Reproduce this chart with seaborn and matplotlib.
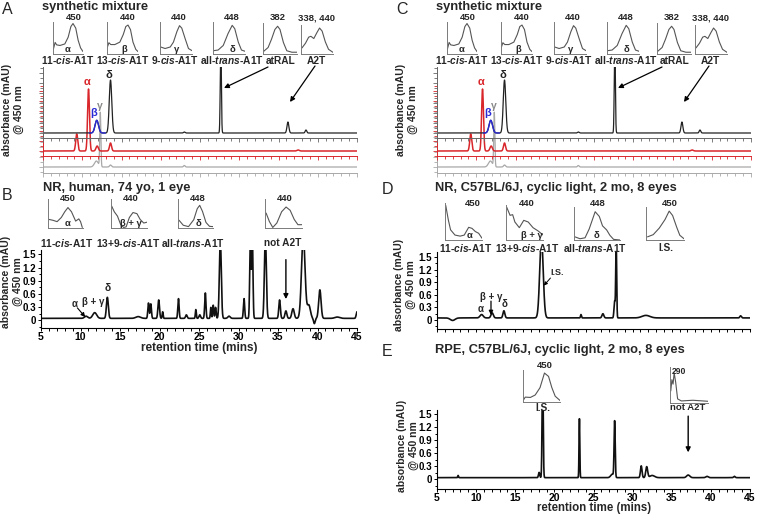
import numpy as np
import seaborn as sns
import matplotlib
matplotlib.use("Agg")
import matplotlib.pyplot as plt
from matplotlib.patches import FancyArrowPatch
from matplotlib.ticker import MultipleLocator

# ------------------------------------------------------------------ data
# synthetic mixture chromatograms (panels A and C), relative absorbance
MIX_BLACK_T = [11.85, 13.6, 23.0, 27.65, 36.2, 38.5]
MIX_BLACK_H = [12.7, 53.0, 1.0, 90.0, 11.0, 3.0]
MIX_BLACK_W = [0.22, 0.16, 0.10, 0.07, 0.12, 0.10]
MIX_RED_T = [9.3, 10.8, 11.9, 13.6, 37.5]
MIX_RED_H = [17.0, 62.0, 5.0, 8.0, 1.0]
MIX_RED_W = [0.13, 0.12, 0.15, 0.13, 0.15]
MIX_GREY_T = [11.8, 12.3, 13.6, 23.0]
MIX_GREY_H = [6.0, 54.0, 2.0, 1.5]
MIX_GREY_W = [0.25, 0.07, 0.12, 0.10]

# NR, human (panel B), mAU
NRH_T = [10.7, 11.8, 13.4, 17.3, 18.6, 18.9, 19.9, 20.4, 22.4, 23.4, 24.6, 25.1,
         25.8, 26.5, 26.8, 27.1, 27.7, 28.8, 30.7, 31.5, 31.75, 33.4, 35.2, 36.0,
         36.9, 38.2, 38.9, 39.6, 40.3, 42.5, 45.0]
NRH_H = [0.05, 0.13, 0.48, 0.04, 0.35, 0.33, 0.42, 0.15, 0.45, 0.08, 0.20, 0.08,
         0.58, 0.25, 0.30, 0.25, 1.80, 0.05, 0.45, 1.90, 1.90, 1.90, 0.42, 0.17,
         0.22, 1.90, 0.30, -0.12, 0.65, 0.03, 0.15]
NRH_W = [0.20, 0.25, 0.12, 0.30, 0.08, 0.08, 0.10, 0.06, 0.08, 0.10, 0.06, 0.10,
         0.08, 0.06, 0.07, 0.07, 0.12, 0.15, 0.08, 0.08, 0.08, 0.12, 0.10, 0.12,
         0.15, 0.22, 0.20, 0.10, 0.15, 0.30, 0.10]
NRH_BASE = 0.04

# NR, C57BL/6J (panel D)
NRM_T = [7.0, 10.7, 12.05, 13.55, 18.35, 23.4, 26.2, 27.7, 27.9, 31.7, 43.8]
NRM_H = [-0.06, 0.08, 0.12, 0.17, 1.90, 0.08, 0.10, 0.40, 1.80, 0.06, 0.05]
NRM_W = [0.30, 0.20, 0.15, 0.12, 0.22, 0.06, 0.12, 0.08, 0.06, 0.50, 0.10]
NRM_BASE = 0.05

# RPE, C57BL/6J (panel E)
RPE_T = [7.7, 18.05, 18.5, 23.2, 27.4, 27.7, 31.1, 31.8, 32.5, 37.1, 39.5, 43.0]
RPE_H = [0.05, 0.12, 2.50, 1.35, 0.08, 1.28, 0.27, 0.25, 0.05, 0.06, 0.03, 0.03]
RPE_W = [0.05, 0.08, 0.07, 0.05, 0.20, 0.07, 0.10, 0.12, 0.30, 0.20, 0.15, 0.10]
RPE_BASE = 0.04

Y_TICKS = [0, 0.3, 0.6, 0.9, 1.2, 1.5]
Y_TICK_LABELS = ["0", "0.3", "0.6", "0.9", "1.2", "1.5"]
X_TICKS = [5, 10, 15, 20, 25, 30, 35, 40, 45]

# inset UV/vis spectra (normalised)
A_NAMES = [r"11-$\mathit{cis}$-A1T", r"13-$\mathit{cis}$-A1T", r"9-$\mathit{cis}$-A1T",
           r"all-$\mathit{trans}$-A1T", "atRAL", "A2T"]
A_LMAX = ["450", "440", "440", "448", "382", "338, 440"]
A_GREEK = ["α", "β", "γ", "δ", "", ""]
A_SPEC_X = [
    [0.02, 0.08, 0.13, 0.24, 0.40, 0.51, 0.60, 0.67, 0.76, 0.84, 0.92, 1.0],
    [0.02, 0.07, 0.13, 0.26, 0.42, 0.53, 0.61, 0.68, 0.76, 0.84, 0.93, 1.0],
    [0.02, 0.16, 0.32, 0.42, 0.53, 0.61, 0.68, 0.79, 0.89, 1.0],
    [0.02, 0.16, 0.32, 0.47, 0.60, 0.68, 0.79, 0.89, 1.0],
    [0.02, 0.15, 0.25, 0.35, 0.43, 0.50, 0.60, 0.70, 0.85, 1.0],
    [0.03, 0.14, 0.24, 0.31, 0.40, 0.50, 0.58, 0.66, 0.76, 0.86, 1.0],
]
A_SPEC_Y = [
    [0.15, 0.38, 0.30, 0.28, 0.33, 0.55, 0.90, 1.00, 0.85, 0.45, 0.20, 0.08],
    [0.22, 0.37, 0.31, 0.31, 0.39, 0.64, 0.90, 0.95, 0.80, 0.39, 0.15, 0.08],
    [0.23, 0.18, 0.23, 0.39, 0.74, 0.93, 0.85, 0.49, 0.18, 0.11],
    [0.11, 0.13, 0.28, 0.67, 0.94, 0.83, 0.39, 0.13, 0.09],
    [0.09, 0.22, 0.50, 0.83, 0.94, 0.83, 0.39, 0.11, 0.06, 0.06],
    [0.22, 0.39, 0.61, 0.64, 0.56, 0.78, 0.94, 0.83, 0.44, 0.17, 0.06],
]

B_NAMES = [r"11-$\mathit{cis}$-A1T", r"13+9-$\mathit{cis}$-A1T", r"all-$\mathit{trans}$-A1T", "not A2T"]
B_LMAX = ["450", "440", "448", "440"]
B_GREEK = ["α", "β + γ", "δ", ""]
B_SPEC_X = [
    [0.03, 0.14, 0.26, 0.38, 0.48, 0.57, 0.67, 0.79, 0.88, 0.93, 0.98],
    [0.02, 0.09, 0.18, 0.27, 0.35, 0.42, 0.51, 0.61, 0.72, 0.81, 0.91, 1.0],
    [0.03, 0.15, 0.30, 0.45, 0.55, 0.62, 0.70, 0.80, 0.90, 1.0],
    [0.03, 0.12, 0.21, 0.32, 0.45, 0.57, 0.68, 0.79, 0.89, 1.0],
]
B_SPEC_Y = [
    [0.31, 0.28, 0.23, 0.38, 0.59, 0.74, 0.59, 0.25, 0.33, 0.23, 0.02],
    [0.79, 0.59, 0.43, 0.12, 0.02, 0.04, 0.38, 0.56, 0.52, 0.31, 0.18, 0.21],
    [0.28, 0.10, 0.05, 0.30, 0.70, 0.82, 0.60, 0.20, 0.06, 0.05],
    [0.54, 0.23, 0.02, 0.18, 0.59, 0.76, 0.64, 0.31, 0.12, 0.12],
]

D_NAMES = [r"11-$\mathit{cis}$-A1T", r"13+9-$\mathit{cis}$-A1T", r"all-$\mathit{trans}$-A1T", "I.S."]
D_LMAX = ["450", "440", "448", "450"]
D_GREEK = ["α", "β + γ", "δ", ""]
D_SPEC_X = [
    [0.02, 0.09, 0.15, 0.27, 0.41, 0.52, 0.64, 0.73, 0.82, 0.91, 1.0],
    [0.02, 0.11, 0.18, 0.24, 0.36, 0.48, 0.60, 0.73, 0.87, 1.0],
    [0.02, 0.13, 0.24, 0.33, 0.46, 0.55, 0.62, 0.71, 0.78, 0.86, 1.0],
    [0.04, 0.19, 0.35, 0.50, 0.61, 0.70, 0.81, 0.89, 1.0],
]
D_SPEC_Y = [
    [0.98, 0.57, 0.29, 0.14, 0.11, 0.14, 0.36, 0.33, 0.24, 0.19, 0.05],
    [0.98, 0.74, 0.76, 0.54, 0.37, 0.59, 0.54, 0.37, 0.27, 0.15],
    [0.10, 0.04, 0.07, 0.35, 0.90, 0.75, 0.45, 0.32, 0.15, 0.02, 0.0],
    [0.10, 0.17, 0.38, 0.65, 0.92, 0.78, 0.40, 0.15, 0.04],
]

E_NAMES = ["I.S.", "not A2T"]
E_LMAX = ["450", "290"]
E_SPEC_X = [
    [0.02, 0.06, 0.20, 0.33, 0.46, 0.58, 0.69, 0.78, 0.87, 1.0],
    [0.02, 0.05, 0.08, 0.11, 0.15, 0.20, 0.30, 0.60, 1.0],
]
E_SPEC_Y = [
    [0.08, 0.16, 0.15, 0.23, 0.47, 0.95, 0.84, 0.47, 0.19, 0.05],
    [0.35, 0.68, 0.55, 0.88, 0.60, 0.12, 0.06, 0.08, 0.05],
]

# ------------------------------------------------------------------ style
sns.set_style("ticks")
plt.rcParams["font.family"] = ["Liberation Sans", "DejaVu Sans"]
plt.rcParams["font.weight"] = "bold"
plt.rcParams["mathtext.fontset"] = "custom"
plt.rcParams["mathtext.it"] = "Liberation Sans:italic:bold"
plt.rcParams["mathtext.rm"] = "Liberation Sans:bold"
plt.rcParams["mathtext.bf"] = "Liberation Sans:bold"
plt.rcParams["mathtext.sf"] = "Liberation Sans:bold"

W, H = 757, 515
fig = plt.figure(figsize=(W / 100, H / 100), dpi=100)

RED = "#d9262b"
BLUE = "#2b2bd6"
GREY = "#a8a8a8"
DARK = "#222222"
SPEC_C = "#555555"
FRAME_C = "#7a7a7a"

TITLE_FS = 9.3
LETTER_FS = 11.5
NAME_FS = 7.3
NUM_FS = 6.8
GREEK_FS = 6.8

T = np.linspace(5, 45, 3201)


def chrom(ts, hs, ws, base=0.0):
    y = np.full_like(T, base)
    for t, h, w in zip(ts, hs, ws):
        y = y + h * np.exp(-0.5 * ((T - t) / w) ** 2)
    return y


def add_ax(x0, y0, x1, y1):
    return fig.add_axes([x0 / W, 1 - y1 / H, (x1 - x0) / W, (y1 - y0) / H])


def ftext(x, y, s, **kw):
    kw.setdefault("ha", "center")
    kw.setdefault("va", "center")
    fig.text(x / W, 1 - y / H, s, **kw)


def farrow(x0, y0, x1, y1, ms=7):
    fig.add_artist(FancyArrowPatch((x0 / W, 1 - y0 / H), (x1 / W, 1 - y1 / H),
                                   transform=fig.transFigure, arrowstyle="-|>",
                                   mutation_scale=ms, lw=0.9, color="k",
                                   shrinkA=0, shrinkB=0))


def line(ax, x, y, color, lw):
    sns.lineplot(x=np.asarray(x), y=np.asarray(y), ax=ax, color=color, lw=lw,
                 estimator=None, sort=False, legend=False)
    ax.set_xlabel("")
    ax.set_ylabel("")


def inset(box, xs, ys):
    x0, y0, x1, y1 = box
    ax = add_ax(x0, y0, x1, y1)
    ax.set_facecolor("none")
    line(ax, xs, ys, SPEC_C, 0.8)
    ax.set_xlim(0, 1)
    ax.set_ylim(0, 1.05)
    for s in ["top", "right"]:
        ax.spines[s].set_visible(False)
    for s in ["left", "bottom"]:
        ax.spines[s].set_color(FRAME_C)
        ax.spines[s].set_linewidth(0.7)
    ax.set_xticks([])
    ax.set_yticks([])
    return ax


def style_mix(ax, color, ylim):
    ax.set_facecolor("none")
    ax.set_xlim(5, 45)
    ax.set_ylim(*ylim)
    for s in ["top", "right"]:
        ax.spines[s].set_visible(False)
    for s in ["left", "bottom"]:
        ax.spines[s].set_color(color)
        ax.spines[s].set_linewidth(0.7)
    ax.xaxis.set_major_locator(MultipleLocator(5))
    ax.xaxis.set_minor_locator(MultipleLocator(1))
    ax.yaxis.set_major_locator(MultipleLocator(10))
    ax.yaxis.set_minor_locator(MultipleLocator(5))
    ax.tick_params(which="both", colors=color, labelbottom=False, labelleft=False,
                   direction="out", width=0.6)
    ax.tick_params(which="major", length=3)
    ax.tick_params(which="minor", length=2)


def style_chrom(ax, ylim, xlabels):
    ax.set_xlim(5, 45)
    ax.set_ylim(*ylim)
    for s in ["top", "right"]:
        ax.spines[s].set_visible(False)
    for s in ["left", "bottom"]:
        ax.spines[s].set_linewidth(0.8)
        ax.spines[s].set_color("k")
    ax.set_xticks(X_TICKS)
    ax.xaxis.set_minor_locator(MultipleLocator(1))
    ax.set_yticks(Y_TICKS)
    ax.set_yticklabels(Y_TICK_LABELS)
    ax.yaxis.set_minor_locator(MultipleLocator(0.15))
    ax.tick_params(which="both", direction="out", width=0.7, colors="k")
    ax.tick_params(which="major", length=2.5, pad=1)
    ax.tick_params(which="minor", length=1.8)
    ax.tick_params(axis="y", labelsize=7)
    ax.tick_params(axis="x", labelsize=7.5, pad=0.2)
    if not xlabels:
        ax.tick_params(axis="x", labelbottom=False)


YLAB = "absorbance (mAU)\n@ 450 nm"

# ------------------------------------------------------------------ panels A & C
A_BOXES = [(52.7, 22, 83, 54), (106.7, 22, 138, 54), (160, 22, 192, 54),
           (213, 22, 245, 54), (263, 23, 297, 54), (301, 25, 333, 54)]
A_NUM_X = [74, 128, 179, 232, 278, 317]
A_NAME_X = [68, 123, 175, 232, 281, 316]
A_GREEK_X = [68, 124, 177, 233]


def synthetic(dx, letter):
    ftext(2 + dx, 10, letter, ha="left", fontsize=LETTER_FS, fontweight="normal")
    ftext(42 + dx, 7, "synthetic mixture", ha="left", fontsize=TITLE_FS)
    for i, box in enumerate(A_BOXES):
        inset((box[0] + dx, box[1], box[2] + dx, box[3]), A_SPEC_X[i], A_SPEC_Y[i])
        ftext(A_NUM_X[i] + dx, 18, A_LMAX[i], fontsize=NUM_FS)
        ftext(A_NAME_X[i] + dx, 60.5, A_NAMES[i], fontsize=NAME_FS)
        if A_GREEK[i]:
            ftext(A_GREEK_X[i] + dx, 49.5, A_GREEK[i], fontsize=GREEK_FS)
    axg = add_ax(43 + dx, 100, 357 + dx, 173)
    style_mix(axg, GREY, (-6, 67))
    line(axg, T, chrom(MIX_GREY_T, MIX_GREY_H, MIX_GREY_W), GREY, 0.9)
    axr = add_ax(43 + dx, 83, 357 + dx, 156)
    style_mix(axr, RED, (-5, 68))
    line(axr, T, chrom(MIX_RED_T, MIX_RED_H, MIX_RED_W), RED, 1.1)
    axb = add_ax(43 + dx, 67, 357 + dx, 138)
    style_mix(axb, "#666666", (-5, 66))
    yb = chrom(MIX_BLACK_T, MIX_BLACK_H, MIX_BLACK_W)
    line(axb, T, yb, DARK, 0.9)
    m = (T >= 10.9) & (T <= 12.95)
    line(axb, T[m], yb[m], BLUE, 1.0)
    # peak labels
    ftext(87 + dx, 82, "α", color=RED, fontsize=8)
    ftext(94 + dx, 113, "β", color=BLUE, fontsize=8)
    ftext(99.5 + dx, 106, "γ", color="#888888", fontsize=7.5)
    ftext(109 + dx, 75, "δ", color=DARK, fontsize=8)
    farrow(268 + dx, 67, 224 + dx, 88)
    farrow(315 + dx, 66, 290 + dx, 102)
    ftext(13 + dx, 110, YLAB, rotation=90, fontsize=7.5, linespacing=1.15)


synthetic(0, "A")
synthetic(394, "C")

# ------------------------------------------------------------------ panel B
ftext(2, 196, "B", ha="left", fontsize=LETTER_FS, fontweight="normal")
ftext(43, 188, "NR, human, 74 yo, 1 eye", ha="left", fontsize=TITLE_FS)
B_BOXES = [(48, 199, 83, 228), (111, 199, 147, 228), (178, 199, 213, 228), (265, 199, 302, 228)]
B_NUM_X = [68, 131, 198, 285]
B_NAME_X = [67, 128, 193, 283]
B_GREEK_X = [68, 131, 199]
for i, box in enumerate(B_BOXES):
    inset(box, B_SPEC_X[i], B_SPEC_Y[i])
    ftext(B_NUM_X[i], 198.5, B_LMAX[i], fontsize=NUM_FS)
    ftext(B_NAME_X[i], 243, B_NAMES[i], fontsize=NAME_FS)
    if B_GREEK[i]:
        ftext(B_GREEK_X[i], 224, B_GREEK[i], fontsize=GREEK_FS)

axB = add_ax(41, 250, 357, 328)
line(axB, T, chrom(NRH_T, NRH_H, NRH_W, NRH_BASE), "#111111", 1.2)
style_chrom(axB, (-0.18, 1.6), True)
axB.text(9.3, 0.36, "α", ha="center", va="center", fontsize=7)
axB.text(11.6, 0.42, "β + γ", ha="center", va="center", fontsize=7)
axB.text(13.4, 0.73, "δ", ha="center", va="center", fontsize=7.5)
axB.annotate("", xy=(10.6, 0.07), xytext=(9.6, 0.28),
             arrowprops=dict(arrowstyle="-|>", lw=0.8, color="k", mutation_scale=6,
                             shrinkA=0, shrinkB=0))
axB.annotate("", xy=(36.0, 0.48), xytext=(36.0, 1.38),
             arrowprops=dict(arrowstyle="-|>", lw=1.0, color="k", mutation_scale=7,
                             shrinkA=0, shrinkB=0))
ftext(199, 348.5, "retention time (mins)", fontsize=8.5)
ftext(12, 282, YLAB, rotation=90, fontsize=7.5, linespacing=1.15)

# ------------------------------------------------------------------ panel D
ftext(382, 189, "D", ha="left", fontsize=LETTER_FS, fontweight="normal")
ftext(435, 188, "NR, C57BL/6J, cyclic light, 2 mo, 8 eyes", ha="left", fontsize=TITLE_FS)
D_BOXES = [(445, 203, 482, 240), (506, 205, 543, 240), (574, 207, 620, 240), (646, 207, 684, 240)]
D_NUM_X = [473, 527, 598, 670]
D_NAME_X = [466, 527, 595, 666]
D_GREEK_X = [470, 532, 596]
for i, box in enumerate(D_BOXES):
    inset(box, D_SPEC_X[i], D_SPEC_Y[i])
    ftext(D_NUM_X[i], 203, D_LMAX[i], fontsize=NUM_FS)
    ftext(D_NAME_X[i], 248, D_NAMES[i], fontsize=NAME_FS)
    if D_GREEK[i]:
        ftext(D_GREEK_X[i], 236, D_GREEK[i], fontsize=GREEK_FS)

axD = add_ax(437, 252, 750, 329)
line(axD, T, chrom(NRM_T, NRM_H, NRM_W, NRM_BASE), "#111111", 1.2)
style_chrom(axD, (-0.214, 1.62), False)
axD.text(10.6, 0.27, "α", ha="center", va="center", fontsize=7)
axD.text(11.9, 0.55, "β + γ", ha="center", va="center", fontsize=7)
axD.text(13.6, 0.37, "δ", ha="center", va="center", fontsize=7)
axD.annotate("", xy=(11.9, 0.12), xytext=(11.9, 0.45),
             arrowprops=dict(arrowstyle="-|>", lw=0.9, color="k", mutation_scale=6,
                             shrinkA=0, shrinkB=0))
axD.text(19.5, 1.12, "I.S.", ha="left", va="center", fontsize=6.5)
axD.annotate("", xy=(18.65, 0.82), xytext=(19.5, 1.0),
             arrowprops=dict(arrowstyle="-|>", lw=0.7, color="k", mutation_scale=5,
                             shrinkA=0, shrinkB=0))
ftext(405, 285, YLAB, rotation=90, fontsize=7.5, linespacing=1.15)

# ------------------------------------------------------------------ panel E
ftext(382, 351, "E", ha="left", fontsize=LETTER_FS, fontweight="normal")
ftext(435, 350, "RPE, C57BL/6J, cyclic light, 2 mo, 8 eyes", ha="left", fontsize=TITLE_FS)
E_BOXES = [(523, 370, 560, 402), (670, 367, 708, 403)]
inset(E_BOXES[0], E_SPEC_X[0], E_SPEC_Y[0])
inset(E_BOXES[1], E_SPEC_X[1], E_SPEC_Y[1])
ftext(545, 366, E_LMAX[0], fontsize=NUM_FS)
ftext(679, 371, E_LMAX[1], fontsize=6.2)
ftext(543, 408, E_NAMES[0], fontsize=NAME_FS)
ftext(688, 408, E_NAMES[1], fontsize=6.8)

axE = add_ax(437, 410, 750, 489)
line(axE, T, chrom(RPE_T, RPE_H, RPE_W, RPE_BASE), "#111111", 1.2)
style_chrom(axE, (-0.22, 1.59), True)
axE.annotate("", xy=(37.1, 0.62), xytext=(37.1, 1.45),
             arrowprops=dict(arrowstyle="-|>", lw=1.0, color="k", mutation_scale=7,
                             shrinkA=0, shrinkB=0))
ftext(594, 508.5, "retention time (mins)", fontsize=8.3)
ftext(408, 446, YLAB, rotation=90, fontsize=7.5, linespacing=1.15)

fig.savefig("out.png", dpi=100)
